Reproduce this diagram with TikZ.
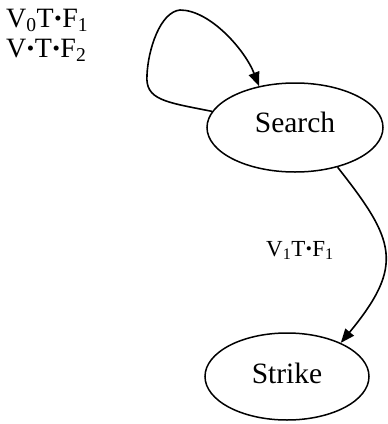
\documentclass[tikz,border=0pt]{standalone}
\usepackage{fontspec}
\setmainfont{Liberation Serif}
\usepackage{graphicx}
\usetikzlibrary{shapes.geometric,arrows.meta}
\newcommand\bdt{\kern0.02em\raisebox{0.06em}{\scalebox{0.75}{•}}\kern0.02em}
\begin{document}
\begin{tikzpicture}[x=1pt,y=-1pt,
  state/.style={ellipse,draw,line width=1.5pt,inner sep=0pt,text height=20pt,
    font=\fontsize{29.5}{32}\selectfont},
  conn/.style={line width=1.6pt,-{Triangle[length=14pt,width=11pt]}},
  lab/.style={inner sep=0pt,anchor=base west}]
\useasboundingbox (0,0) rectangle (388,424);
\node[state,minimum width=176pt,minimum height=89pt,text depth=10pt] (search) at (295,127.5) {Search};
\node[state,minimum width=164pt,minimum height=87pt,text depth=7pt] (strike) at (287,376.5) {Strike};
\node[lab,font=\fontsize{28}{30}\selectfont] (l1) at (6,27) {V\textsubscript{0}T\bdt F\textsubscript{1}};
\node[lab,font=\fontsize{28}{30}\selectfont] (l2) at (6,57) {V\bdt T\bdt F\textsubscript{2}};
\node[lab,font=\fontsize{23}{25}\selectfont] (l3) at (266,256) {V\textsubscript{1}T\bdt F\textsubscript{1}};
\draw[conn] (search.169) .. controls (165,102) and (145,100) .. (147,75)
  .. controls (148,50) and (160,12) .. (180,10)
  .. controls (210,10) and (245,50) .. (search.131);
\draw[conn] (search.-43) .. controls (395,240) and (405,265) .. (strike.32);
\end{tikzpicture}
\end{document}
